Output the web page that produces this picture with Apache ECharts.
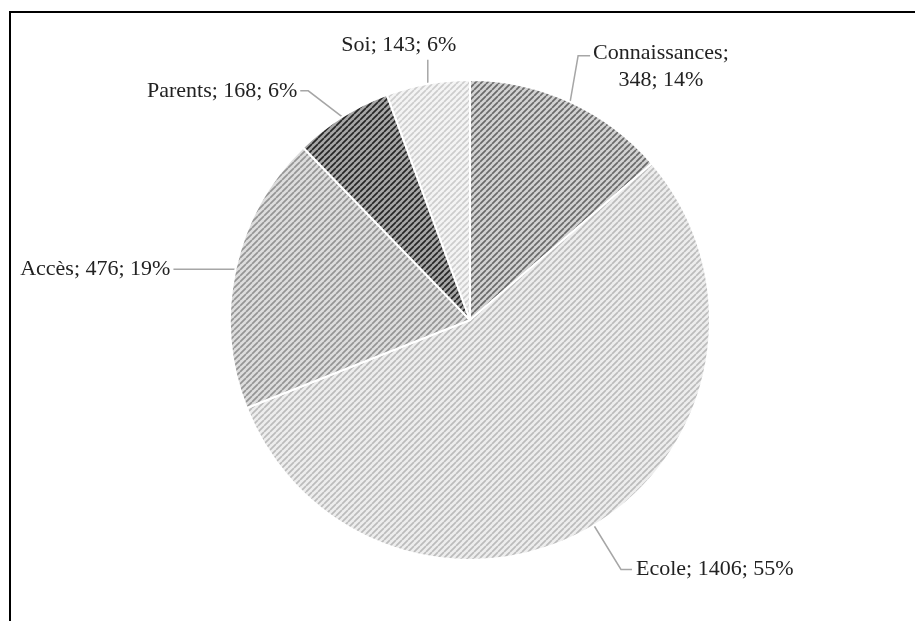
<!DOCTYPE html>
<html><head><meta charset="utf-8">
<script src="https://cdn.jsdelivr.net/npm/echarts@6/dist/echarts.min.js"></script>
<style>html,body{margin:0;padding:0;background:#fff}#c{width:915px;height:621px}</style>
</head><body><div id="c"></div>
<script>
// ---- data ----
const categories = ['Connaissances', 'Ecole', 'Accès', 'Parents', 'Soi'];
const values = [348, 1406, 476, 168, 143];

// ---- styles ----
const fills = [
  ['#d2d2d2', '#6a6a6a'],
  ['#ededed', '#bcbcbc'],
  ['#dddddd', '#959595'],
  ['#a6a6a6', '#262626'],
  ['#f4f4f4', '#cdcdcd']
];
// leader: [dx1, dy1, dx2, labelDx, labelDy, align, verticalAlign]
const leaders = [
  [8, -46, 12, 3, -16, 'left', 'top'],
  [27, 44, 11, 4, 0, 'left', 'middle'],
  [0, 0, -62, -3, 0, 'right', 'middle'],
  [-34, -26, -8, -3, 0, 'right', 'middle'],
  [0, -24, 0, -29, -4, 'center', 'bottom']
];
const FONT = '"Liberation Serif", "DejaVu Serif", serif';

function tile(bg, fg) {
  const c = document.createElement('canvas');
  c.width = 6; c.height = 6;
  const g = c.getContext('2d');
  g.fillStyle = bg; g.fillRect(0, 0, 6, 6);
  g.strokeStyle = fg; g.lineWidth = 1.7;
  g.beginPath();
  for (let k = -6; k <= 12; k += 6) { g.moveTo(k, 6); g.lineTo(k + 6, 0); }
  g.stroke();
  return c;
}

const data = categories.map((n, i) => ({
  name: n, value: values[i],
  itemStyle: { color: { image: tile(fills[i][0], fills[i][1]), repeat: 'repeat' } }
}));

const chart = echarts.init(document.getElementById('c'), null, { renderer: 'canvas' });
chart.setOption({
  backgroundColor: '#fff',
  animation: false,
  graphic: [{
    type: 'rect', shape: { x: 10, y: 12, width: 1000, height: 800 },
    style: { fill: 'none', stroke: '#000', lineWidth: 2 }, silent: true, z: 100
  }],
  series: [{
    type: 'pie',
    center: [470, 320],
    radius: 240,
    startAngle: 90,
    clockwise: true,
    percentPrecision: 0,
    avoidLabelOverlap: false,
    data: data,
    itemStyle: { borderColor: '#fff', borderWidth: 2 },
    label: {
      show: true,
      position: 'outside',
      fontFamily: FONT, fontSize: 22, color: '#222',
      formatter: p => p.dataIndex === 0
        ? '{a|' + p.name + ';}\n{b|' + p.value + '; ' + p.percent + '%}'
        : p.name + '; ' + p.value + '; ' + p.percent + '%',
      rich: {
        a: { fontFamily: FONT, fontSize: 22, color: '#222', lineHeight: 27 },
        b: { fontFamily: FONT, fontSize: 22, color: '#222', lineHeight: 27, align: 'center' }
      }
    },
    labelLine: { show: true, lineStyle: { color: '#a6a6a6', width: 1.5 } },
    labelLayout: function (params) {
      const i = params.dataIndex;
      const a = params.labelLinePoints ? params.labelLinePoints[0] : [0, 0];
      const L = leaders[i];
      const p1 = [a[0] + L[0], a[1] + L[1]];
      const p2 = [p1[0] + L[2], p1[1]];
      return {
        x: p2[0] + L[3], y: p2[1] + L[4],
        align: L[5], verticalAlign: L[6],
        labelLinePoints: [a, p1, p2]
      };
    }
  }]
});
</script>
</body></html>
